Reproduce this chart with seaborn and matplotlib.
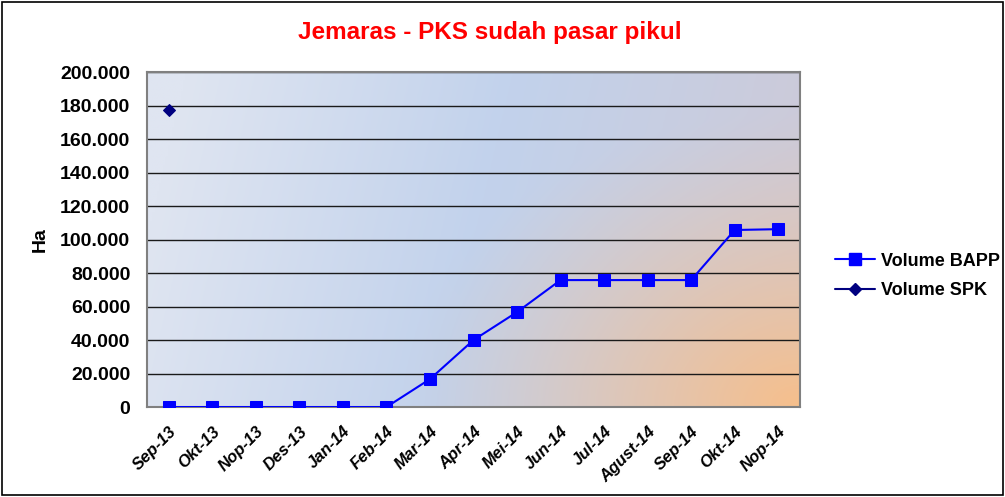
import numpy as np
import pandas as pd
import seaborn as sns
import matplotlib.pyplot as plt
from matplotlib.lines import Line2D
from matplotlib.colors import to_rgb
from matplotlib.ticker import FuncFormatter

# data
months = ['Sep-13', 'Okt-13', 'Nop-13', 'Des-13', 'Jan-14', 'Feb-14', 'Mar-14',
          'Apr-14', 'Mei-14', 'Jun-14', 'Jul-14', 'Agust-14', 'Sep-14', 'Okt-14', 'Nop-14']
volume_bapp = [0, 0, 0, 0, 0, 0, 16700, 40000, 56700, 75800, 75800, 75800, 75800, 105700, 106200]
spk_months = ['Sep-13']
volume_spk = [177300]

sns.set_theme(style='white')
plt.rcParams['font.family'] = ['Liberation Sans', 'DejaVu Sans']
plt.rcParams['text.color'] = 'black'
plt.rcParams['axes.labelcolor'] = 'black'
plt.rcParams['xtick.color'] = 'black'
plt.rcParams['ytick.color'] = 'black'

fig = plt.figure(figsize=(10.05, 4.97), dpi=100)
ax = fig.add_axes([0.1463, 0.181, 0.6497, 0.674])

# gradient background: light -> blue horizontally, orange glow from bottom right
nx, ny = 300, 150
gx, gy = np.meshgrid(np.linspace(0, 1, nx), np.linspace(0, 1, ny))  # gy=0 top row
stops = [(0.0, '#dfe5f1'), (0.5, '#c2d2ec'), (1.0, '#cdcad8')]
base = np.zeros((ny, nx, 3))
for c in range(3):
    base[..., c] = np.interp(gx + 0.12 * (gy - 0.5), [s[0] for s in stops],
                             [to_rgb(s[1])[c] for s in stops])
d = np.sqrt((1 - gx) ** 2 + (0.7 * (1 - gy)) ** 2)
w = np.clip(1 - d / 0.62, 0, 1) ** 1.3
orange = np.array(to_rgb('#f6bf8c'))
img = base * (1 - w[..., None]) + orange * w[..., None]
ax.imshow(img, extent=[0, 1, 0, 1], transform=ax.transAxes,
          aspect='auto', origin='upper', zorder=0)

x_pos = list(range(len(months)))
df = pd.DataFrame({'x': x_pos, 'val': volume_bapp})
df_spk = pd.DataFrame({'x': [months.index(m) for m in spk_months], 'val': volume_spk})

sns.lineplot(data=df, x='x', y='val', ax=ax, color='#0000ff', lw=1.5,
             marker='s', markersize=9, markeredgecolor='#0000ff', zorder=3)
sns.lineplot(data=df_spk, x='x', y='val', ax=ax, color='#000080', lw=1.5,
             marker='D', markersize=6, markeredgecolor='#000080', zorder=3)

ax.set_xlim(-0.5, len(months) - 0.5)
ax.set_ylim(0, 200000)
ax.set_yticks(range(0, 200001, 20000))
ax.yaxis.set_major_formatter(FuncFormatter(lambda v, p: f'{int(v):,}'.replace(',', '.')))
ax.set_xticks(x_pos)
ax.set_xticklabels(months, rotation=45, ha='right', rotation_mode='anchor',
                   fontsize=12, fontweight='bold', fontstyle='italic')
for lab in ax.get_yticklabels():
    lab.set_fontsize(14)
    lab.set_fontweight('bold')
ax.tick_params(axis='x', pad=6)
ax.tick_params(axis='y', pad=6)
ax.grid(axis='y', color='#1a1a1a', lw=1, zorder=1)
ax.set_axisbelow(True)
for s in ax.spines.values():
    s.set_color('#808080')
    s.set_linewidth(1.5)
ax.set_xlabel('')
ax.set_ylabel('Ha', fontsize=14, fontweight='bold', labelpad=8)

fig.suptitle('Jemaras - PKS sudah pasar pikul', x=0.487, y=0.957,
             color='#ff0000', fontsize=17.5, fontweight='bold')

handles = [Line2D([], [], color='#0000ff', marker='s', markersize=9, lw=1.5),
           Line2D([], [], color='#000080', marker='D', markersize=6, lw=1.5)]
fig.legend(handles, ['Volume BAPP', 'Volume SPK'], loc='center left',
           bbox_to_anchor=(0.815, 0.445), frameon=False,
           prop={'weight': 'bold', 'size': 13}, handlelength=2.2,
           handletextpad=0.35, labelspacing=0.7)

# outer border of the figure
fig.patches.append(plt.Rectangle((0.002, 0.004), 0.996, 0.992, transform=fig.transFigure,
                                 fill=False, edgecolor='black', lw=1.2))

fig.savefig('out.png', dpi=100)
